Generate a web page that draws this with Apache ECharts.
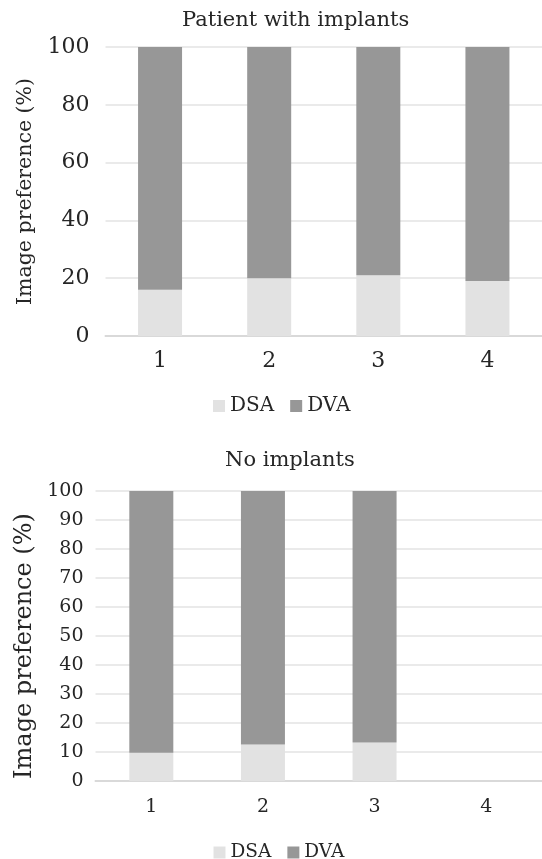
<!DOCTYPE html>
<html><head><meta charset="utf-8">
<script src="https://cdn.jsdelivr.net/npm/echarts@6/dist/echarts.min.js"></script>
<style>html,body{margin:0;padding:0;background:#fff}#c{width:542px;height:859px}</style>
</head><body><div id="c"></div>
<script>
const categories = ['1', '2', '3', '4'];
const topDSA = [16, 20, 21, 19];
const topDVA = [84, 80, 79, 81];
const botDSA = [9.7, 12.6, 13.3, null];
const botDVA = [90.3, 87.4, 86.7, null];
const topTicks = {min: 0, max: 100, interval: 20};
const botTicks = {min: 0, max: 100, interval: 10};

const FONT = 'DejaVu Serif';
const TXT = '#262626';
const C_DSA = '#e2e2e2';
const C_DVA = '#979797';

const chart = echarts.init(document.getElementById('c'), null, {renderer: 'canvas'});
chart.setOption({
  animation: false,
  textStyle: {fontFamily: FONT, color: TXT},
  title: [
    {text: 'Patient with implants', left: 177, top: 5,
     textStyle: {fontFamily: FONT, fontSize: 21, fontWeight: 'normal', color: TXT}},
    {text: 'No implants', left: 220, top: 445,
     textStyle: {fontFamily: FONT, fontSize: 21, fontWeight: 'normal', color: TXT}}
  ],
  legend: [
    {top: 391, left: 208, icon: 'rect', itemWidth: 12, itemHeight: 12, itemGap: 16,
     data: ['DSA', 'DVA'], selectedMode: false,
     textStyle: {fontFamily: FONT, fontSize: 20, color: TXT}},
    {top: 838, left: 208.5, icon: 'rect', itemWidth: 12, itemHeight: 12, itemGap: 16,
     data: ['DSA', 'DVA'], selectedMode: false,
     textStyle: {fontFamily: FONT, fontSize: 18.5, color: TXT}}
  ],
  grid: [
    {left: 105.5, top: 47, width: 441, height: 289},
    {left: 95.5, top: 491, width: 450, height: 290}
  ],
  xAxis: [
    {type: 'category', gridIndex: 0, data: categories,
     axisLine: {lineStyle: {color: '#d9d9d9', width: 2}}, axisTick: {show: false},
     axisLabel: {fontFamily: FONT, fontSize: 22, color: TXT, margin: 14}},
    {type: 'category', gridIndex: 1, data: categories,
     axisLine: {lineStyle: {color: '#d9d9d9', width: 2}}, axisTick: {show: false},
     axisLabel: {fontFamily: FONT, fontSize: 19, color: TXT, margin: 17}}
  ],
  yAxis: [
    {type: 'value', gridIndex: 0, min: topTicks.min, max: topTicks.max, interval: topTicks.interval,
     name: 'Image preference (%)', nameLocation: 'middle', nameRotate: 90, nameGap: 65.5,
     nameTextStyle: {fontFamily: FONT, fontSize: 20.5, color: TXT},
     axisLine: {show: false}, axisTick: {show: false},
     splitLine: {lineStyle: {color: '#e3e3e3', width: 1.5}},
     axisLabel: {fontFamily: FONT, fontSize: 22, color: TXT, margin: 16}},
    {type: 'value', gridIndex: 1, min: botTicks.min, max: botTicks.max, interval: botTicks.interval,
     name: 'Image preference (%)', nameLocation: 'middle', nameRotate: 90, nameGap: 55,
     nameTextStyle: {fontFamily: FONT, fontSize: 24, color: TXT, padding: [0, 20, 0, 0]},
     axisLine: {show: false}, axisTick: {show: false},
     splitLine: {lineStyle: {color: '#e3e3e3', width: 1.5}},
     axisLabel: {fontFamily: FONT, fontSize: 19, color: TXT, margin: 12}}
  ],
  series: [
    {name: 'DSA', type: 'bar', stack: 't', xAxisIndex: 0, yAxisIndex: 0, data: topDSA,
     barWidth: 44, itemStyle: {color: C_DSA}},
    {name: 'DVA', type: 'bar', stack: 't', xAxisIndex: 0, yAxisIndex: 0, data: topDVA,
     barWidth: 44, itemStyle: {color: C_DVA}},
    {name: 'DSA', type: 'bar', stack: 'b', xAxisIndex: 1, yAxisIndex: 1, data: botDSA,
     barWidth: 44, itemStyle: {color: C_DSA}},
    {name: 'DVA', type: 'bar', stack: 'b', xAxisIndex: 1, yAxisIndex: 1, data: botDVA,
     barWidth: 44, itemStyle: {color: C_DVA}}
  ]
});
</script></body></html>
